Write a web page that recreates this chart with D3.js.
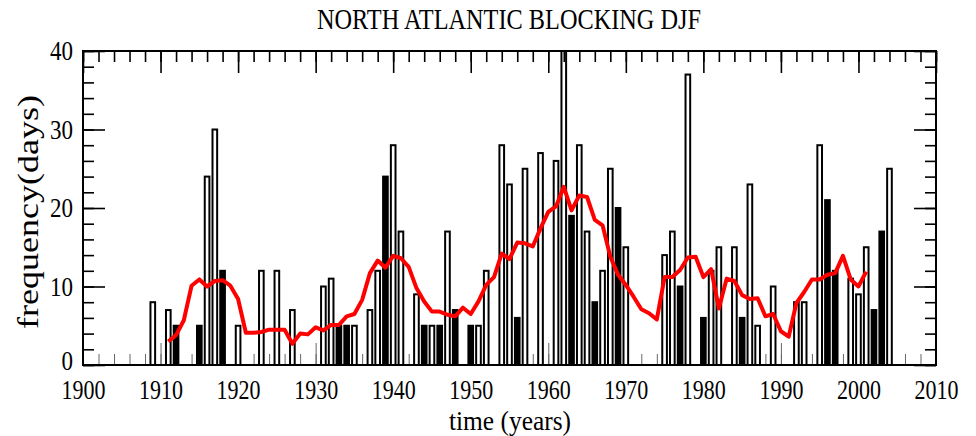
<!DOCTYPE html>
<html lang="en">
<head>
    <meta charset="UTF-8">
    <title>North Atlantic blocking DJF</title>
    <script src="https://d3js.org/d3.v7.min.js"></script>
    <style>
        body { margin: 0; background: #fff; }
        text { font-family: "Liberation Serif", "DejaVu Serif", serif; fill: #000; }
        .frame { fill: none; stroke: #000; stroke-width: 2; }
        .bar { fill: #fff; stroke: #000; stroke-width: 2; }
        .bar.dark { fill: #000; }
        .mean { fill: none; stroke: #ff0000; stroke-width: 4; stroke-linejoin: round; }
        .axis path { display: none; }
        .axis line { stroke: #000; stroke-width: 1.6; }
        .axis.bottom line { stroke: #666; stroke-width: 1; }
    </style>
</head>
<body>
<div id="chart"></div>
<script>
    // yearly blocking days (bars)
    const barYears = [1909, 1911, 1912, 1915, 1916, 1917, 1918, 1920, 1923, 1925, 1927,
        1931, 1932, 1933, 1934, 1935, 1937, 1938, 1939, 1940, 1941, 1943, 1944, 1945, 1946,
        1947, 1948, 1950, 1951, 1952, 1954, 1955, 1956, 1957, 1959, 1961, 1962, 1963, 1964,
        1965, 1966, 1967, 1968, 1969, 1970, 1975, 1976, 1977, 1978, 1980, 1981, 1982, 1984,
        1985, 1986, 1987, 1989, 1992, 1993, 1995, 1996, 1997, 1999, 2000, 2001, 2002, 2003, 2004];
    const barValues = [8, 7, 5, 5, 24, 30, 12, 5, 12, 12, 7,
        10, 11, 5, 5, 5, 7, 12, 24, 28, 17, 9, 5, 5, 5,
        17, 7, 5, 5, 12, 28, 23, 6, 25, 27, 26, 40, 19, 28,
        17, 8, 12, 25, 20, 15, 14, 17, 10, 37, 6, 12, 15, 15,
        6, 23, 5, 10, 8, 8, 28, 21, 12, 11, 9, 15, 7, 17, 25];
    // bars that render as solid black in the original
    const darkYears = [1912, 1915, 1918, 1933, 1934, 1939, 1944, 1946, 1948, 1950, 1956,
        1963, 1966, 1969, 1977, 1980, 1985, 1996, 1997, 2002, 2003];

    // running mean (red line)
    const meanYears = d3.range(1911, 2002);
    const meanValues = [3.0, 3.8, 5.7, 10.1, 10.9, 10.0, 10.7, 10.8, 10.1, 8.4,
        4.1, 4.1, 4.2, 4.5, 4.5, 4.5, 2.7, 4.0, 3.9, 4.8,
        4.4, 5.1, 5.1, 6.2, 6.5, 8.3, 11.7, 13.3, 12.4, 13.9,
        13.6, 12.5, 9.8, 8.1, 6.8, 6.8, 6.4, 6.2, 7.3, 6.5,
        8.1, 10.2, 11.2, 14.2, 13.5, 15.6, 15.5, 15.1, 17.4, 19.5,
        20.2, 22.7, 19.7, 21.6, 21.4, 18.5, 17.8, 13.8, 11.5, 10.2,
        8.7, 7.1, 6.6, 5.8, 11.2, 11.2, 12.1, 13.7, 13.8, 11.2,
        12.2, 7.2, 11.0, 10.7, 8.9, 8.4, 8.5, 6.2, 6.5, 4.3,
        3.6, 7.9, 9.3, 10.9, 10.9, 11.5, 11.7, 13.9, 10.9, 10.0, 11.9];

    const xMajor = d3.range(1900, 2011, 10);
    const xMinor = d3.range(1900, 2011, 2);
    const yMajor = [0, 10, 20, 30, 40];
    const yMinor = d3.range(0, 41, 2);

    const width = 976, height = 436;
    const plot = { left: 83, right: 936, top: 51, bottom: 365 };

    const svg = d3.select("#chart").append("svg")
        .attr("width", width)
        .attr("height", height);

    const x = d3.scaleLinear().domain([1900, 2010]).range([plot.left, plot.right]);
    const y = d3.scaleLinear().domain([0, 40]).range([plot.bottom, plot.top]);

    // bars
    const bw = (x(1901) - x(1900)) * 0.6;
    const bars = barYears.map((yr, i) => ({ year: yr, value: barValues[i], dark: darkYears.includes(yr) }));

    // inward ticks, bottom ones sit behind the bars
    const bottomMinor = d3.axisBottom(x).tickValues(xMinor).tickSize(-11).tickFormat("");
    const bottomMajor = d3.axisBottom(x).tickValues(xMajor).tickSize(-22).tickPadding(15)
        .tickFormat(d3.format("d"));

    svg.append("g").attr("class", "axis bottom")
        .attr("transform", `translate(0,${plot.bottom})`).call(bottomMinor);
    const bAxis = svg.append("g").attr("class", "axis bottom")
        .attr("transform", `translate(0,${plot.bottom})`).call(bottomMajor);
    bAxis.selectAll("text")
        .style("font-size", "27px")
        .attr("textLength", 44)
        .attr("lengthAdjust", "spacingAndGlyphs");

    svg.selectAll(".bar")
        .data(bars)
        .join("rect")
        .attr("class", d => d.dark ? "bar dark" : "bar")
        .attr("x", d => x(d.year) - bw / 2)
        .attr("y", d => y(d.value))
        .attr("width", bw)
        .attr("height", d => y(0) - y(d.value));

    // running mean
    const line = d3.line()
        .x((d, i) => x(meanYears[i]))
        .y(d => y(d));

    svg.append("path")
        .datum(meanValues)
        .attr("class", "mean")
        .attr("d", line);

    // other axes
    svg.append("g").attr("class", "axis")
        .attr("transform", `translate(0,${plot.top})`)
        .call(d3.axisTop(x).tickValues(xMinor).tickSize(-11).tickFormat(""));
    svg.append("g").attr("class", "axis")
        .attr("transform", `translate(0,${plot.top})`)
        .call(d3.axisTop(x).tickValues(xMajor).tickSize(-22).tickFormat(""));

    svg.append("g").attr("class", "axis")
        .attr("transform", `translate(${plot.left},0)`)
        .call(d3.axisLeft(y).tickValues(yMinor).tickSize(-11).tickFormat(""));
    const lAxis = svg.append("g").attr("class", "axis")
        .attr("transform", `translate(${plot.left},0)`)
        .call(d3.axisLeft(y).tickValues(yMajor).tickSize(-22).tickPadding(10));
    lAxis.selectAll("text")
        .style("font-size", "27px")
        .attr("textLength", d => d >= 10 ? 23 : 11.5)
        .attr("lengthAdjust", "spacingAndGlyphs")
        .attr("dy", d => d === 0 ? "0.15em" : "0.32em");

    svg.append("g").attr("class", "axis")
        .attr("transform", `translate(${plot.right},0)`)
        .call(d3.axisRight(y).tickValues(yMinor).tickSize(-11).tickFormat(""));
    svg.append("g").attr("class", "axis")
        .attr("transform", `translate(${plot.right},0)`)
        .call(d3.axisRight(y).tickValues(yMajor).tickSize(-22).tickFormat(""));

    svg.append("rect")
        .attr("class", "frame")
        .attr("x", plot.left)
        .attr("y", plot.top)
        .attr("width", plot.right - plot.left)
        .attr("height", plot.bottom - plot.top);

    // titles
    svg.append("text")
        .attr("x", 509)
        .attr("y", 29)
        .attr("text-anchor", "middle")
        .style("font-size", "30px")
        .attr("textLength", 384)
        .attr("lengthAdjust", "spacingAndGlyphs")
        .text("NORTH ATLANTIC BLOCKING DJF");

    svg.append("text")
        .attr("x", 510)
        .attr("y", 430)
        .attr("text-anchor", "middle")
        .style("font-size", "28px")
        .attr("textLength", 122)
        .attr("lengthAdjust", "spacingAndGlyphs")
        .text("time (years)");

    svg.append("text")
        .attr("transform", "translate(38,212) rotate(-90)")
        .attr("text-anchor", "middle")
        .style("font-size", "30px")
        .attr("textLength", 234)
        .attr("lengthAdjust", "spacingAndGlyphs")
        .text("frequency(days)");
</script>
</body>
</html>
